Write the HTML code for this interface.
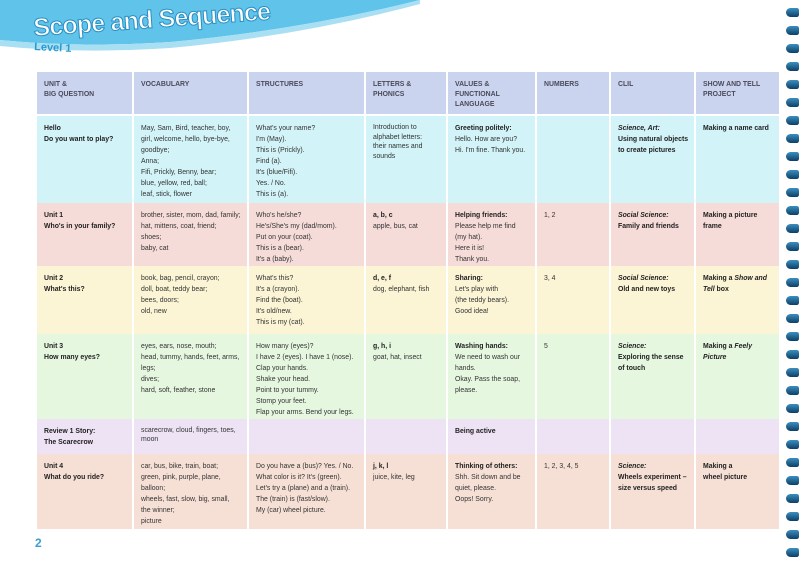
<!DOCTYPE html>
<html><head><meta charset="utf-8"><style>
html,body{margin:0;padding:0;background:#fff;}
body{width:800px;height:566px;position:relative;overflow:hidden;font-family:"Liberation Sans",sans-serif;color:#333;}
table{position:absolute;left:35px;top:72px;border-collapse:collapse;table-layout:fixed;width:744px;}
td{border-left:2px solid #fff;border-right:2px solid #fff;vertical-align:top;padding:7px 2px 0 7px;font-size:6.9px;line-height:11px;overflow:hidden;}
tr.h td{background:#cbd4ee;height:34px;font-weight:bold;color:#4a4a5a;line-height:10px;padding-top:8px;border-bottom:2px solid #fff;}
b{color:#222;}
.r1 td{background:#d2f3f7;height:80px;}
.r2 td{background:#f6dcd8;height:56px;}
.r3 td{background:#fbf5d5;height:61px;}
.r4 td{background:#e6f7e0;height:78px;}
.r5 td{background:#eee3f5;height:28px;}
.r6 td{background:#f6e0d5;height:68px;}
.ring{position:absolute;left:786px;width:13px;height:9px;border-radius:6px 3px 3px 6px;background:linear-gradient(#3a8fc0,#0e3f66);}
</style></head><body>
<svg style="position:absolute;left:0;top:0" width="420" height="70">
<path d="M0,0 L420,0 Q300,30 170,42 Q80,48 0,40 Z" fill="#5fc3ea"/>
<path d="M0,40 Q80,48 170,42 Q300,30 420,0 L420,4 Q300,36 170,48 Q80,54 0,46Z" fill="#a9dff3"/>
<text x="34" y="36" font-family="Liberation Sans" font-weight="bold" font-size="25" fill="#fff" stroke="#2b8fc4" stroke-width="1" textLength="238" transform="rotate(-4 34 36)">Scope and Sequence</text>
<text x="34" y="50" font-family="Liberation Sans" font-weight="bold" font-size="11" fill="#2a9ad0" transform="rotate(3 34 50)">Level 1</text>
</svg>
<table>
<colgroup><col style="width:97px"><col style="width:115px"><col style="width:117px"><col style="width:82px"><col style="width:89px"><col style="width:74px"><col style="width:85px"><col style="width:85px"></colgroup>
<tr class="h"><td>UNIT &amp;<br>BIG QUESTION</td><td>VOCABULARY</td><td>STRUCTURES</td><td>LETTERS &amp;<br>PHONICS</td><td>VALUES &amp;<br>FUNCTIONAL<br>LANGUAGE</td><td>NUMBERS</td><td>CLIL</td><td>SHOW AND TELL<br>PROJECT</td></tr>
<tr class="r1"><td><b>Hello<br>Do you want to play?</b></td><td>May, Sam, Bird, teacher, boy,<br>girl, welcome, hello, bye-bye,<br>goodbye;<br>Anna;<br>Fifi, Prickly, Benny, bear;<br>blue, yellow, red, ball;<br>leaf, stick, flower</td><td>What's your name?<br>I'm (May).<br>This is (Prickly).<br>Find (a).<br>It's (blue/Fifi).<br>Yes. / No.<br>This is (a).</td><td style="line-height:9.5px">Introduction to<br>alphabet letters:<br>their names and<br>sounds</td><td><b>Greeting politely:</b><br>Hello. How are you?<br>Hi. I'm fine. Thank you.</td><td></td><td><b><i>Science, Art:</i><br>Using natural objects<br>to create pictures</b></td><td><b>Making a name card</b></td></tr>
<tr class="r2"><td><b>Unit 1<br>Who's in your family?</b></td><td>brother, sister, mom, dad, family;<br>hat, mittens, coat, friend;<br>shoes;<br>baby, cat</td><td>Who's he/she?<br>He's/She's my (dad/mom).<br>Put on your (coat).<br>This is a (bear).<br>It's a (baby).</td><td><b>a, b, c</b><br>apple, bus, cat</td><td><b>Helping friends:</b><br>Please help me find<br>(my hat).<br>Here it is!<br>Thank you.</td><td>1, 2</td><td><b><i>Social Science:</i><br>Family and friends</b></td><td><b>Making a picture<br>frame</b></td></tr>
<tr class="r3"><td><b>Unit 2<br>What's this?</b></td><td>book, bag, pencil, crayon;<br>doll, boat, teddy bear;<br>bees, doors;<br>old, new</td><td>What's this?<br>It's a (crayon).<br>Find the (boat).<br>It's old/new.<br>This is my (cat).</td><td><b>d, e, f</b><br>dog, elephant, fish</td><td><b>Sharing:</b><br>Let's play with<br>(the teddy bears).<br>Good idea!</td><td>3, 4</td><td><b><i>Social Science:</i><br>Old and new toys</b></td><td><b>Making a <i>Show and<br>Tell</i> box</b></td></tr>
<tr class="r4"><td><b>Unit 3<br>How many eyes?</b></td><td>eyes, ears, nose, mouth;<br>head, tummy, hands, feet, arms,<br>legs;<br>dives;<br>hard, soft, feather, stone</td><td>How many (eyes)?<br>I have 2 (eyes). I have 1 (nose).<br>Clap your hands.<br>Shake your head.<br>Point to your tummy.<br>Stomp your feet.<br>Flap your arms. Bend your legs.</td><td><b>g, h, i</b><br>goat, hat, insect</td><td><b>Washing hands:</b><br>We need to wash our<br>hands.<br>Okay. Pass the soap,<br>please.</td><td>5</td><td><b><i>Science:</i><br>Exploring the sense<br>of touch</b></td><td><b>Making a <i>Feely<br>Picture</i></b></td></tr>
<tr class="r5"><td><b>Review 1 Story:<br>The Scarecrow</b></td><td style="line-height:9px">scarecrow, cloud, fingers, toes,<br>moon</td><td></td><td></td><td><b>Being active</b></td><td></td><td></td><td></td></tr>
<tr class="r6"><td><b>Unit 4<br>What do you ride?</b></td><td>car, bus, bike, train, boat;<br>green, pink, purple, plane,<br>balloon;<br>wheels, fast, slow, big, small,<br>the winner;<br>picture</td><td>Do you have a (bus)? Yes. / No.<br>What color is it? It's (green).<br>Let's try a (plane) and a (train).<br>The (train) is (fast/slow).<br>My (car) wheel picture.</td><td><b>j, k, l</b><br>juice, kite, leg</td><td><b>Thinking of others:</b><br>Shh. Sit down and be<br>quiet, please.<br>Oops! Sorry.</td><td>1, 2, 3, 4, 5</td><td><b><i>Science:</i><br>Wheels experiment –<br>size versus speed</b></td><td><b>Making a<br>wheel picture</b></td></tr>
</table>
<div style="position:absolute;left:35px;top:536px;font-size:12px;font-weight:bold;color:#3a9fd0">2</div>
<div class="ring" style="top:8px"></div><div class="ring" style="top:26px"></div><div class="ring" style="top:44px"></div><div class="ring" style="top:62px"></div><div class="ring" style="top:80px"></div><div class="ring" style="top:98px"></div><div class="ring" style="top:116px"></div><div class="ring" style="top:134px"></div><div class="ring" style="top:152px"></div><div class="ring" style="top:170px"></div><div class="ring" style="top:188px"></div><div class="ring" style="top:206px"></div><div class="ring" style="top:224px"></div><div class="ring" style="top:242px"></div><div class="ring" style="top:260px"></div><div class="ring" style="top:278px"></div><div class="ring" style="top:296px"></div><div class="ring" style="top:314px"></div><div class="ring" style="top:332px"></div><div class="ring" style="top:350px"></div><div class="ring" style="top:368px"></div><div class="ring" style="top:386px"></div><div class="ring" style="top:404px"></div><div class="ring" style="top:422px"></div><div class="ring" style="top:440px"></div><div class="ring" style="top:458px"></div><div class="ring" style="top:476px"></div><div class="ring" style="top:494px"></div><div class="ring" style="top:512px"></div><div class="ring" style="top:530px"></div><div class="ring" style="top:548px"></div>
</body></html>
